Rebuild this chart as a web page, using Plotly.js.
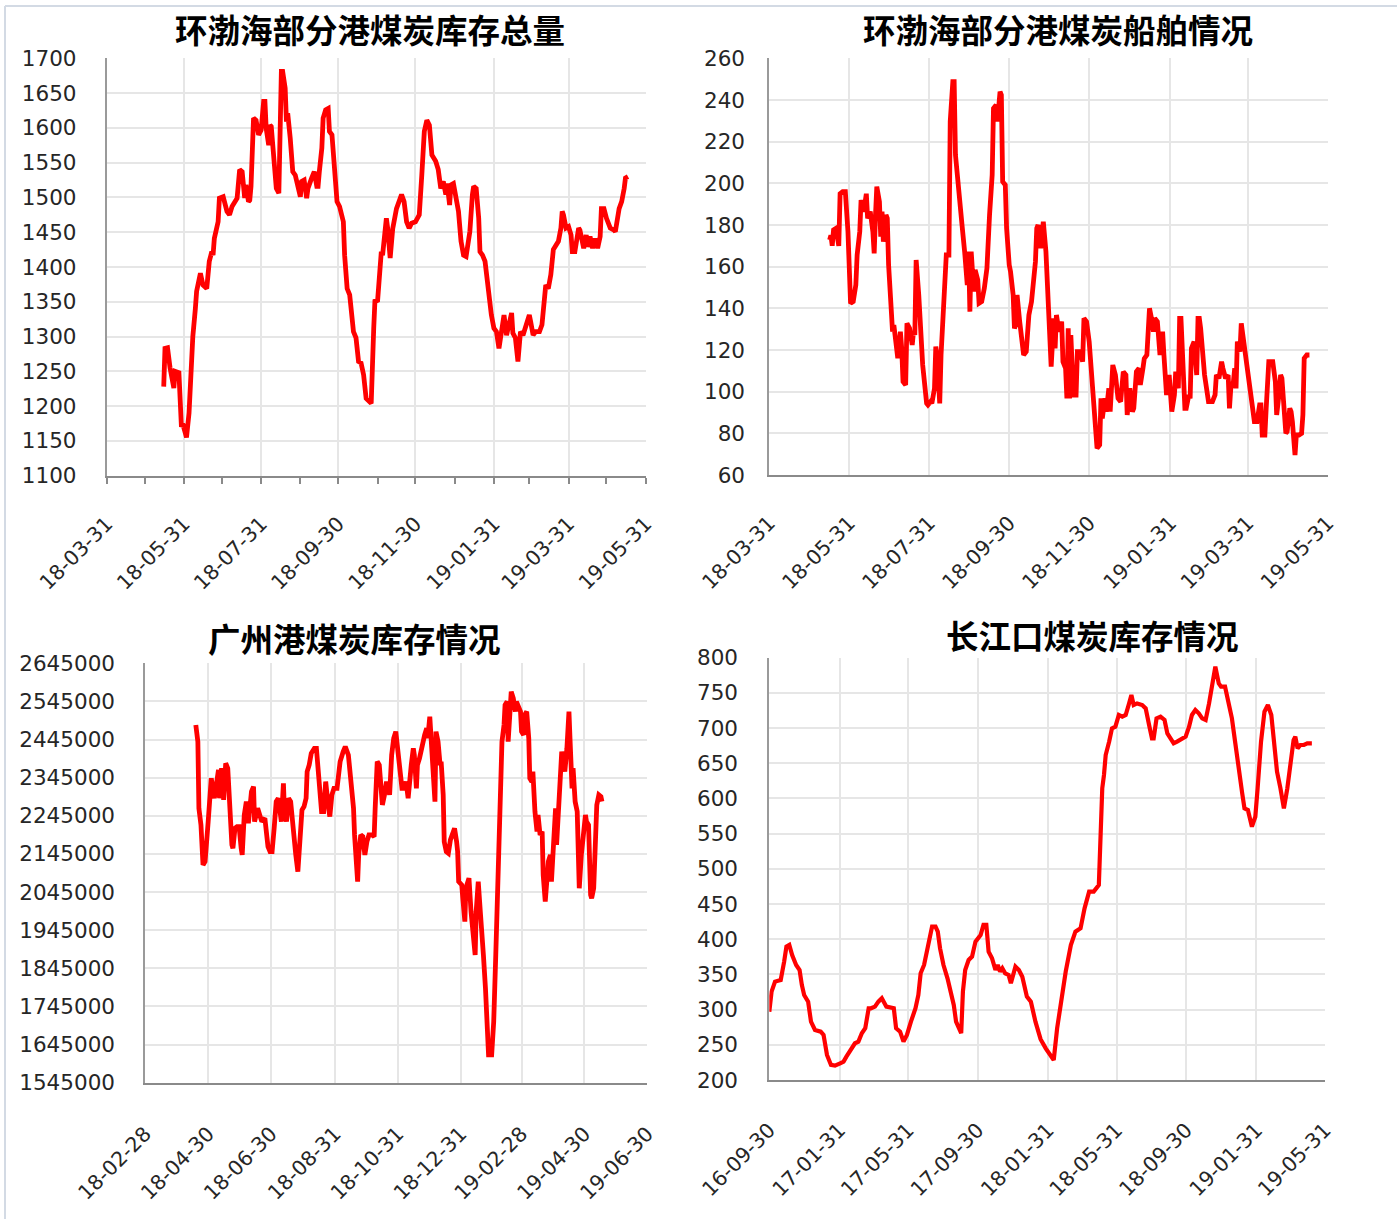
<!DOCTYPE html>
<html>
<head>
<meta charset="utf-8">
<script src="https://cdn.plot.ly/plotly-3.0.1.min.js"></script>
<style>
  html, body { margin: 0; padding: 0; background: #ffffff; }
  #chart { width: 1397px; height: 1219px; }
</style>
</head>
<body>
<div id="chart"></div>
<script>
// ---- 环渤海部分港煤炭库存总量 (万吨) ----
const bohaiStockDates = [
  '2018-05-15','2018-05-16','2018-05-18','2018-05-20','2018-05-23','2018-05-24','2018-05-27','2018-05-28','2018-05-29','2018-05-30',
  '2018-06-02','2018-06-04','2018-06-06','2018-06-07','2018-06-09','2018-06-10','2018-06-13','2018-06-15','2018-06-18','2018-06-20',
  '2018-06-22','2018-06-23','2018-06-24','2018-06-26','2018-06-27','2018-06-28','2018-07-01','2018-07-04','2018-07-06','2018-07-08',
  '2018-07-10','2018-07-12','2018-07-14','2018-07-16','2018-07-18','2018-07-19','2018-07-21','2018-07-22','2018-07-23','2018-07-25',
  '2018-07-27','2018-07-29','2018-07-31','2018-08-02','2018-08-03','2018-08-04','2018-08-06','2018-08-07','2018-08-08','2018-08-10',
  '2018-08-12','2018-08-14','2018-08-16','2018-08-17','2018-08-19','2018-08-20','2018-08-21','2018-08-23','2018-08-25','2018-08-27',
  '2018-08-29','2018-08-31','2018-09-01','2018-09-03','2018-09-05','2018-09-06','2018-09-09','2018-09-11','2018-09-13','2018-09-14',
  '2018-09-15','2018-09-17','2018-09-18','2018-09-20','2018-09-22','2018-09-23','2018-09-25','2018-09-27','2018-09-29','2018-10-01',
  '2018-10-04','2018-10-05','2018-10-07','2018-10-09','2018-10-12','2018-10-14','2018-10-16','2018-10-18','2018-10-20','2018-10-22',
  '2018-10-25','2018-10-26','2018-10-28','2018-10-29','2018-10-31','2018-11-02','2018-11-03','2018-11-04','2018-11-07','2018-11-08',
  '2018-11-10','2018-11-12','2018-11-14','2018-11-15','2018-11-19','2018-11-21','2018-11-23','2018-11-25','2018-11-27','2018-11-30',
  '2018-12-03','2018-12-04','2018-12-05','2018-12-07','2018-12-09','2018-12-11','2018-12-13','2018-12-16','2018-12-18','2018-12-20',
  '2018-12-22','2018-12-24','2018-12-25','2018-12-27','2018-12-28','2018-12-30','2019-01-01','2019-01-03','2019-01-05','2019-01-07',
  '2019-01-09','2019-01-11','2019-01-12','2019-01-14','2019-01-15','2019-01-17','2019-01-19','2019-01-20','2019-01-22','2019-01-24',
  '2019-01-26','2019-01-27','2019-01-29','2019-01-31','2019-02-02','2019-02-04','2019-02-06','2019-02-08','2019-02-10','2019-02-11',
  '2019-02-14','2019-02-15','2019-02-17','2019-02-19','2019-02-21','2019-02-23','2019-02-25','2019-02-28','2019-03-01','2019-03-03',
  '2019-03-05','2019-03-08','2019-03-10','2019-03-12','2019-03-13','2019-03-15','2019-03-17','2019-03-19','2019-03-21','2019-03-23',
  '2019-03-25','2019-03-26','2019-03-27','2019-03-29','2019-03-31','2019-04-02','2019-04-03','2019-04-05','2019-04-08','2019-04-09',
  '2019-04-12','2019-04-14','2019-04-15','2019-04-17','2019-04-19','2019-04-21','2019-04-23','2019-04-25','2019-04-26','2019-04-28',
  '2019-04-30','2019-05-03','2019-05-06','2019-05-07','2019-05-10','2019-05-12','2019-05-14','2019-05-15','2019-05-17'
];
const bohaiStockValues = [
  1228,1283,1284,1255,1226,1250,1248,1195,1170,1175,
  1155,1190,1290,1300,1340,1365,1391,1374,1369,1408,
  1422,1417,1441,1458,1465,1499,1501,1480,1475,1487,
  1494,1499,1540,1537,1499,1518,1494,1496,1516,1614,
  1611,1590,1597,1638,1638,1599,1575,1604,1602,1561,
  1513,1506,1681,1681,1657,1609,1621,1585,1537,1532,
  1513,1501,1523,1525,1499,1513,1528,1537,1516,1516,
  1537,1571,1614,1626,1628,1595,1590,1547,1494,1487,
  1465,1417,1369,1360,1307,1298,1264,1262,1245,1211,
  1204,1204,1312,1353,1350,1417,1422,1417,1470,1456,
  1413,1455,1480,1484,1504,1494,1465,1456,1463,1465,
  1475,1528,1532,1595,1611,1604,1561,1552,1540,1513,
  1523,1504,1520,1489,1518,1520,1494,1480,1437,1417,
  1415,1437,1451,1504,1516,1513,1470,1422,1417,1408,
  1374,1369,1331,1312,1307,1283,1307,1331,1302,1312,
  1334,1305,1298,1264,1307,1302,1312,1331,1322,1302,
  1307,1307,1317,1350,1374,1369,1389,1425,1432,1437,
  1456,1480,1475,1456,1458,1446,1422,1422,1456,1453,
  1427,1446,1429,1444,1427,1441,1427,1444,1484,1484,
  1470,1456,1453,1451,1484,1494,1513,1528,1530
];

// ---- 环渤海部分港煤炭船舶情况 (艘) ----
const bohaiShipDates = [
  '2018-05-16','2018-05-17','2018-05-18','2018-05-19','2018-05-21','2018-05-23','2018-05-24','2018-05-26','2018-05-28','2018-05-29',
  '2018-05-30','2018-06-01','2018-06-03','2018-06-05','2018-06-06','2018-06-08','2018-06-09','2018-06-11','2018-06-13','2018-06-14',
  '2018-06-16','2018-06-18','2018-06-19','2018-06-20','2018-06-21','2018-06-23','2018-06-24','2018-06-25','2018-06-26','2018-06-28',
  '2018-06-29','2018-06-30','2018-07-02','2018-07-03','2018-07-04','2018-07-06','2018-07-07','2018-07-09','2018-07-10','2018-07-11',
  '2018-07-13','2018-07-14','2018-07-16','2018-07-18','2018-07-19','2018-07-20','2018-07-21','2018-07-23','2018-07-25','2018-07-26',
  '2018-07-29','2018-07-30','2018-08-01','2018-08-02','2018-08-04','2018-08-05','2018-08-06','2018-08-08','2018-08-09','2018-08-11',
  '2018-08-13','2018-08-15','2018-08-16','2018-08-18','2018-08-19','2018-08-20','2018-08-22','2018-08-24','2018-08-25','2018-08-27',
  '2018-08-28','2018-08-29','2018-08-30','2018-08-31','2018-09-01','2018-09-02','2018-09-03','2018-09-04','2018-09-06','2018-09-07',
  '2018-09-09','2018-09-11','2018-09-13','2018-09-15','2018-09-17','2018-09-18','2018-09-20','2018-09-21','2018-09-23','2018-09-24',
  '2018-09-25','2018-09-27','2018-09-28','2018-09-30','2018-10-01','2018-10-03','2018-10-04','2018-10-05','2018-10-06','2018-10-08',
  '2018-10-10','2018-10-11','2018-10-13','2018-10-15','2018-10-17','2018-10-18','2018-10-20','2018-10-21','2018-10-22','2018-10-24',
  '2018-10-25','2018-10-26','2018-10-28','2018-10-29','2018-10-31','2018-11-01','2018-11-03','2018-11-04','2018-11-05','2018-11-07',
  '2018-11-09','2018-11-10','2018-11-12','2018-11-13','2018-11-14','2018-11-15','2018-11-16','2018-11-18','2018-11-20','2018-11-21',
  '2018-11-23','2018-11-25','2018-11-26','2018-11-28','2018-11-30','2018-12-02','2018-12-04','2018-12-06','2018-12-08','2018-12-09',
  '2018-12-10','2018-12-12','2018-12-13','2018-12-15','2018-12-16','2018-12-18','2018-12-20','2018-12-22','2018-12-24','2018-12-26',
  '2018-12-28','2018-12-29','2018-12-31','2019-01-02','2019-01-03','2019-01-05','2019-01-07','2019-01-08','2019-01-10','2019-01-11',
  '2019-01-13','2019-01-14','2019-01-15','2019-01-17','2019-01-18','2019-01-19','2019-01-21','2019-01-23','2019-01-25','2019-01-26',
  '2019-01-28','2019-01-30','2019-01-31','2019-02-01','2019-02-03','2019-02-04','2019-02-06','2019-02-07','2019-02-08','2019-02-09',
  '2019-02-11','2019-02-12','2019-02-14','2019-02-15','2019-02-16','2019-02-18','2019-02-20','2019-02-21','2019-02-22','2019-02-23',
  '2019-02-25','2019-02-26','2019-03-01','2019-03-04','2019-03-06','2019-03-07','2019-03-09','2019-03-11','2019-03-12','2019-03-14',
  '2019-03-16','2019-03-17','2019-03-18','2019-03-20','2019-03-21','2019-03-22','2019-03-23','2019-03-25','2019-03-26','2019-03-28',
  '2019-03-30','2019-03-31','2019-04-02','2019-04-04','2019-04-05','2019-04-07','2019-04-09','2019-04-10','2019-04-11','2019-04-13',
  '2019-04-14','2019-04-16','2019-04-17','2019-04-19','2019-04-21','2019-04-22','2019-04-24','2019-04-25','2019-04-26','2019-04-27',
  '2019-04-29','2019-04-30','2019-05-02','2019-05-03','2019-05-04','2019-05-06','2019-05-07','2019-05-09','2019-05-11','2019-05-12',
  '2019-05-13','2019-05-15','2019-05-17'
];
const bohaiShipValues = [
  172.8,175,170,177.6,178.4,170,195,196,196,188,
  176.8,142.4,143.2,151.2,165.6,176.8,192,186.4,195,183.2,
  186.4,176.8,166.4,184.8,198.4,191.2,174.4,186.4,172,184.8,
  183.2,160.8,143.2,128.8,132,117.6,116,128.8,120.8,104.8,
  103.2,132.8,130.4,122.4,128.8,127.2,163.2,146.4,125.6,112.8,
  94.4,93.6,95.2,94.4,101.6,121.6,117.6,94.4,117.6,146.4,
  165.6,165.6,229.6,248.8,248.8,213.6,197.6,188,180,167.2,
  152.8,151.2,167.2,138.4,167.2,156,148,158.4,153.6,142.4,
  143.2,149.6,159.2,184.8,204,236,237.6,229.6,244,242.4,
  200.8,199.2,178.4,160.8,157.6,146.4,130.4,132,146.4,133.6,
  120.8,117.6,119.2,136.8,143.2,149.6,162.4,178.4,180,168.8,
  178.4,181.6,167.2,152.8,133.6,112,135.2,120.8,136.8,128.8,
  133.6,114.4,111.2,96.8,130.4,96.8,127.2,98.4,98.4,119.2,
  119.2,114.4,135.2,133.6,124,106.4,85.6,72.8,74.4,96.8,
  87.2,96.8,90.4,101.6,90.4,112.8,108,96.8,95.2,109.6,
  108,88.8,101.6,90.4,92,109.6,111.2,103.2,111.2,115.8,
  117.6,135.2,140,133.6,128.8,135.2,133.6,117.6,128.8,117.6,
  98.4,108,101.6,90.4,98.4,109.6,101.6,135.2,135.2,117.6,
  92,92,98.4,96.8,120.8,124,108,135.2,135.2,130.4,
  117.6,108,95.2,95.2,98.4,108,106.4,114.4,111.2,106.4,
  108,92,101.6,104.8,111.2,101.6,124,119.2,132.8,124,
  112.8,109.6,103.2,90.4,85.6,85.6,93.6,93.6,79.2,79.2,
  92,114.4,114.4,114.4,104.8,88.8,100,108,106.4,98.4,
  80,80.8,92,90.4,85.6,69.6,79.2,79.2,80,88.8,
  116,117.6,117.6
];

// ---- 广州港煤炭库存情况 (吨) ----
const guangzhouDates = [
  '2018-04-18','2018-04-20','2018-04-21','2018-04-23','2018-04-25','2018-04-27','2018-04-30','2018-05-02','2018-05-03','2018-05-06',
  '2018-05-08','2018-05-10','2018-05-11','2018-05-13','2018-05-15','2018-05-17','2018-05-19','2018-05-21','2018-05-23','2018-05-24',
  '2018-05-26','2018-05-28','2018-05-30','2018-06-01','2018-06-02','2018-06-04','2018-06-06','2018-06-08','2018-06-09','2018-06-11',
  '2018-06-13','2018-06-14','2018-06-17','2018-06-19','2018-06-21','2018-06-24','2018-06-26','2018-06-27','2018-06-29','2018-07-01',
  '2018-07-03','2018-07-05','2018-07-07','2018-07-10','2018-07-12','2018-07-13','2018-07-15','2018-07-17','2018-07-19','2018-07-21',
  '2018-07-24','2018-07-26','2018-07-28','2018-07-30','2018-08-01','2018-08-03','2018-08-04','2018-08-06','2018-08-08','2018-08-11',
  '2018-08-13','2018-08-15','2018-08-16','2018-08-18','2018-08-20','2018-08-22','2018-08-24','2018-08-26','2018-08-28','2018-08-30',
  '2018-09-02','2018-09-03','2018-09-05','2018-09-08','2018-09-10','2018-09-13','2018-09-15','2018-09-18','2018-09-19','2018-09-22',
  '2018-09-23','2018-09-25','2018-09-27','2018-09-29','2018-10-01','2018-10-03','2018-10-06','2018-10-08','2018-10-09','2018-10-11',
  '2018-10-13','2018-10-14','2018-10-16','2018-10-18','2018-10-20','2018-10-22','2018-10-23','2018-10-25','2018-10-27','2018-10-29',
  '2018-10-31','2018-11-01','2018-11-03','2018-11-04','2018-11-06','2018-11-08','2018-11-10','2018-11-11','2018-11-13','2018-11-15',
  '2018-11-16','2018-11-18','2018-11-19','2018-11-21','2018-11-23','2018-11-24','2018-11-26','2018-11-28','2018-11-29','2018-12-01',
  '2018-12-02','2018-12-04','2018-12-06','2018-12-07','2018-12-09','2018-12-11','2018-12-12','2018-12-14','2018-12-15','2018-12-17',
  '2018-12-19','2018-12-21','2018-12-24','2018-12-25','2018-12-27','2018-12-28','2018-12-29','2019-01-01','2019-01-02','2019-01-04',
  '2019-01-05','2019-01-08','2019-01-10','2019-01-12','2019-01-14','2019-01-15','2019-01-17','2019-01-19','2019-01-20','2019-01-22',
  '2019-01-24','2019-01-25','2019-01-27','2019-01-30','2019-02-01','2019-02-03','2019-02-05','2019-02-06','2019-02-08','2019-02-09',
  '2019-02-11','2019-02-12','2019-02-14','2019-02-15','2019-02-17','2019-02-18','2019-02-20','2019-02-22','2019-02-23','2019-02-25',
  '2019-02-27','2019-02-28','2019-03-02','2019-03-03','2019-03-05','2019-03-07','2019-03-08','2019-03-10','2019-03-11','2019-03-13',
  '2019-03-15','2019-03-16','2019-03-18','2019-03-20','2019-03-21','2019-03-23','2019-03-24','2019-03-26','2019-03-28','2019-03-29',
  '2019-03-31','2019-04-02','2019-04-03','2019-04-05','2019-04-06','2019-04-08','2019-04-10','2019-04-11','2019-04-13','2019-04-15',
  '2019-04-16','2019-04-18','2019-04-19','2019-04-21','2019-04-23','2019-04-24','2019-04-25','2019-04-27','2019-04-29','2019-05-01',
  '2019-05-02','2019-05-04','2019-05-06','2019-05-07','2019-05-09','2019-05-11','2019-05-12','2019-05-14','2019-05-16','2019-05-17'
];
const guangzhouValues = [
  2483300,2439600,2264800,2221100,2116200,2125000,2229800,2299700,2343400,2291000,
  2334700,2365300,2291000,2369700,2286600,2382800,2369700,2247300,2168600,2159900,
  2212300,2216700,2216700,2159900,2142400,2247300,2282300,2225400,2264800,2308500,
  2321600,2229800,2264800,2247300,2229800,2238600,2168600,2164200,2151100,2151100,
  2212300,2282300,2291000,2229800,2330300,2256100,2229800,2291000,2282300,2212300,
  2142400,2098700,2194800,2260400,2269200,2291000,2360900,2378400,2409000,2422100,
  2422100,2365300,2317200,2256100,2256100,2334700,2282300,2242900,2299700,2317200,
  2317200,2352200,2387100,2413300,2426500,2404600,2352200,2264800,2194800,2072500,
  2142400,2194800,2190500,2142400,2177300,2194800,2194800,2190500,2264800,2387100,
  2378400,2334700,2273500,2299700,2334700,2317200,2299700,2404600,2448300,2465800,
  2413300,2387100,2361000,2317200,2317200,2334700,2291000,2334700,2378400,2422100,
  2404600,2317200,2378400,2395900,2422100,2439600,2457000,2474500,2448300,2505100,
  2457000,2378400,2282300,2465800,2439600,2378400,2387100,2299700,2177300,2151100,
  2146800,2181700,2199200,2212300,2177300,2151100,2072500,2063700,2028800,1967600,
  2055000,2081200,1993800,1949900,1880100,1993800,2072500,1993800,1941200,1880100,
  1792800,1705400,1617900,1617900,1705400,1880100,2055000,2229800,2360900,2439600,
  2483300,2535900,2544600,2439600,2527100,2570800,2553200,2518300,2544600,2527100,
  2518300,2465800,2457000,2509500,2518300,2448300,2343400,2334700,2361000,2256100,
  2203600,2247300,2194800,2203600,2089900,2020000,2072500,2125000,2142400,2072500,
  2168600,2264800,2168600,2264800,2334700,2413300,2378400,2361000,2422100,2518300,
  2448300,2317200,2369700,2282300,2256100,2159900,2055000,2142400,2203600,2247300,
  2229800,2221100,2037500,2028800,2055000,2256100,2273500,2299700,2295300,2282300
];

// ---- 长江口煤炭库存情况 (万吨) ----
const yangtzeDates = [
  '2016-09-30','2016-10-04','2016-10-10','2016-10-16','2016-10-20','2016-10-26','2016-10-30','2016-11-04','2016-11-09','2016-11-16',
  '2016-11-22','2016-11-26','2016-11-30','2016-12-07','2016-12-12','2016-12-19','2016-12-29','2017-01-03','2017-01-09','2017-01-16',
  '2017-01-23','2017-02-01','2017-02-07','2017-02-12','2017-02-16','2017-02-23','2017-02-27','2017-03-05','2017-03-11','2017-03-17',
  '2017-03-23','2017-03-27','2017-04-03','2017-04-09','2017-04-15','2017-04-23','2017-05-01','2017-05-06','2017-05-10','2017-05-17',
  '2017-05-23','2017-05-29','2017-06-05','2017-06-13','2017-06-18','2017-06-22','2017-06-28','2017-07-03','2017-07-08','2017-07-12',
  '2017-07-18','2017-07-22','2017-07-26','2017-08-01','2017-08-08','2017-08-14','2017-08-19','2017-08-23','2017-08-28','2017-09-01',
  '2017-09-04','2017-09-08','2017-09-14','2017-09-20','2017-09-26','2017-10-05','2017-10-10','2017-10-15','2017-10-19','2017-10-25',
  '2017-10-31','2017-11-04','2017-11-08','2017-11-12','2017-11-17','2017-11-23','2017-11-27','2017-12-01','2017-12-05','2017-12-11',
  '2017-12-17','2017-12-25','2018-01-01','2018-01-09','2018-01-18','2018-01-27','2018-02-03','2018-02-10','2018-02-16','2018-02-23',
  '2018-03-03','2018-03-12','2018-03-20','2018-03-29','2018-04-05','2018-04-13','2018-04-21','2018-04-30','2018-05-03','2018-05-06',
  '2018-05-09','2018-05-12','2018-05-18','2018-05-23','2018-05-29','2018-06-04','2018-06-10','2018-06-16','2018-06-22','2018-06-26',
  '2018-06-30','2018-07-06','2018-07-15','2018-07-21','2018-07-27','2018-08-01','2018-08-04','2018-08-09','2018-08-16','2018-08-23',
  '2018-08-28','2018-09-03','2018-09-08','2018-09-14','2018-09-23','2018-09-29','2018-10-05','2018-10-10','2018-10-16','2018-10-22',
  '2018-10-28','2018-11-03','2018-11-09','2018-11-14','2018-11-20','2018-11-26','2018-11-30','2018-12-07','2018-12-12','2018-12-19',
  '2018-12-25','2018-12-31','2019-01-06','2019-01-10','2019-01-16','2019-01-23','2019-01-29','2019-02-02','2019-02-08','2019-02-14',
  '2019-02-20','2019-02-26','2019-03-02','2019-03-08','2019-03-14','2019-03-20','2019-03-26','2019-04-01','2019-04-06','2019-04-09',
  '2019-04-13','2019-04-18','2019-04-24','2019-04-30','2019-05-08'
];
const yangtzeValues = [
  297,325.6,339.8,342.1,342.1,368.2,389.5,391.8,377.6,363.4,
  356.3,335,320.8,311.3,282.9,271.1,268.7,264,235.6,221.4,
  220.4,223.7,226.1,233.2,237.9,245,252.2,254.5,266.4,273.5,
  301.9,301.9,304.2,311.3,316.1,304.2,301.9,301.9,273.5,268.7,
  254.5,264,282.9,301.9,320.8,351.6,363.4,382.4,401.3,417.9,
  417.9,410.8,387.1,363.4,344.5,325.6,306.6,282.9,273.5,266.4,
  325.6,356.3,370.5,375.3,396.6,406,420.3,420.3,382.4,372.9,
  356.3,363.4,354,358.7,351.6,349.2,337.4,351.6,361.1,356.3,
  346.8,318.4,311.3,282.9,258,245,235.6,228.5,273.5,316.1,
  354,391.8,410.8,415.5,443.9,467.6,467.6,477.1,533.9,614.4,
  633.3,661.7,680.7,699.6,702,718.6,716.2,718.6,735.1,747,
  732.8,735.1,732.8,728,704.4,685.4,685.4,713.8,716.2,711.5,
  692.5,683,678.3,680.7,685.4,687.8,702,718.6,725.7,721,
  713.8,711.5,735.1,761.2,787.2,763.5,758.8,758.8,742.2,713.8,
  678.3,638,607.3,586,583.6,559.9,574.1,614.4,680.7,723.3,
  732.8,718.6,680.7,638,614.4,586,614.4,652.3,683,687.8,
  671.2,676,676,678.3,678.3
];

// ---- axis ticks ----
const bohaiTickDates = ['2018-03-31','2018-05-31','2018-07-31','2018-09-30','2018-11-30','2019-01-31','2019-03-31','2019-05-31'];
const bohaiMinorDates = ['2018-04-30','2018-06-30','2018-08-31','2018-10-31','2018-12-31','2019-02-28','2019-04-30'];
const guangzhouTickDates = ['2018-02-28','2018-04-30','2018-06-30','2018-08-31','2018-10-31','2018-12-31','2019-02-28','2019-04-30','2019-06-30'];
const yangtzeTickDates = ['2016-09-30','2017-01-31','2017-05-31','2017-09-30','2018-01-31','2018-05-31','2018-09-30','2019-01-31','2019-05-31'];

const titles = ['环渤海部分港煤炭库存总量','环渤海部分港煤炭船舶情况','广州港煤炭库存情况','长江口煤炭库存情况'];

// ---- drawing ----
const W = 1397, H = 1219;
const px = v => v / W;
const py = v => 1 - v / H;

const mk = (x, y, xa, ya, w) => ({
  x, y, xaxis: xa, yaxis: ya, type: 'scatter', mode: 'lines',
  line: { color: '#ff0000', width: w }, hoverinfo: 'skip'
});

const data = [
  mk(bohaiStockDates, bohaiStockValues, 'x', 'y', 4.8),
  mk(bohaiShipDates, bohaiShipValues, 'x2', 'y2', 4.8),
  mk(guangzhouDates, guangzhouValues, 'x3', 'y3', 4.8),
  mk(yangtzeDates, yangtzeValues, 'x4', 'y4', 4.2)
];

const tickFontX = { family: 'DejaVu Sans', size: 20.5, color: '#262626' };
const tickFontY = { family: 'DejaVu Sans', size: 21.5, color: '#262626' };
const GRID = '#e6e6e6';

function xAxis(domain, anchor, tickvals, range, extra) {
  return Object.assign({
    type: 'date', domain, anchor, range, tickmode: 'array', tickvals,
    tickformat: '%y-%m-%d', tickangle: -45, tickfont: tickFontX,
    showgrid: true, gridcolor: GRID, gridwidth: 2,
    showline: true, linecolor: '#8a8a8a', linewidth: 2,
    zeroline: false, ticks: '', automargin: false, fixedrange: true,
    ticklabelstandoff: 26
  }, extra || {});
}
function yAxis(domain, anchor, range, dtick, standoff, extra) {
  return Object.assign({
    domain, anchor, range, tick0: range[0], dtick, tickfont: tickFontY,
    showgrid: true, gridcolor: GRID, gridwidth: 2,
    showline: true, linecolor: '#9a9a9a', linewidth: 2,
    zeroline: false, ticks: '', automargin: false, fixedrange: true,
    ticklabelstandoff: standoff
  }, extra || {});
}

const layout = {
  width: W, height: H,
  margin: { l: 0, r: 0, t: 0, b: 0 },
  paper_bgcolor: '#ffffff', plot_bgcolor: '#ffffff',
  showlegend: false,
  xaxis: xAxis([px(106.8), px(645.7)], 'y', bohaiTickDates, ['2018-03-31', '2019-05-31'], {
    ticks: 'outside', ticklen: 6, tickwidth: 2, tickcolor: '#8a8a8a', ticklabelstandoff: 20,
    minor: { tickmode: 'array', tickvals: bohaiMinorDates, ticks: 'outside', ticklen: 6, tickwidth: 2, tickcolor: '#8a8a8a', showgrid: false }
  }),
  yaxis: yAxis([py(475.7), py(58.3)], 'x', [1100, 1700], 50, 24),
  xaxis2: xAxis([px(769.3), px(1327.8)], 'y2', bohaiTickDates, ['2018-03-31', '2019-05-31']),
  yaxis2: yAxis([py(475), py(58.3)], 'x2', [60, 260], 20, 18),
  xaxis3: xAxis([px(145.3), px(647.3)], 'y3', guangzhouTickDates, ['2018-02-28', '2019-06-30'], { ticklabelstandoff: 29 }),
  yaxis3: yAxis([py(1082.7), py(663.3)], 'x3', [1545000, 2645000], 100000, 24, { tickformat: 'd' }),
  xaxis4: xAxis([px(769.3), px(1325)], 'y4', yangtzeTickDates, ['2016-09-30', '2019-05-31'], { ticklabelstandoff: 28 }),
  yaxis4: yAxis([py(1080), py(657.7)], 'x4', [200, 800], 50, 25),
  annotations: [
    [370, 29], [1058, 29], [354, 637], [1092, 634]
  ].map((p, i) => ({
    xref: 'paper', yref: 'paper', x: px(p[0]), y: py(p[1]),
    xanchor: 'center', yanchor: 'middle', showarrow: false,
    text: '<b>' + titles[i] + '</b>',
    font: { family: 'Noto Sans CJK SC', size: 32.5, color: '#000000' }
  })),
  shapes: [
    { type: 'line', xref: 'paper', yref: 'paper', x0: px(5), x1: 1, y0: py(6), y1: py(6), line: { color: '#d3dae4', width: 2 } },
    { type: 'line', xref: 'paper', yref: 'paper', x0: px(5), x1: px(5), y0: py(6), y1: 0, line: { color: '#d3dae4', width: 2 } }
  ]
};

Plotly.newPlot('chart', data, layout, { staticPlot: true, displayModeBar: false });
</script>
</body>
</html>
